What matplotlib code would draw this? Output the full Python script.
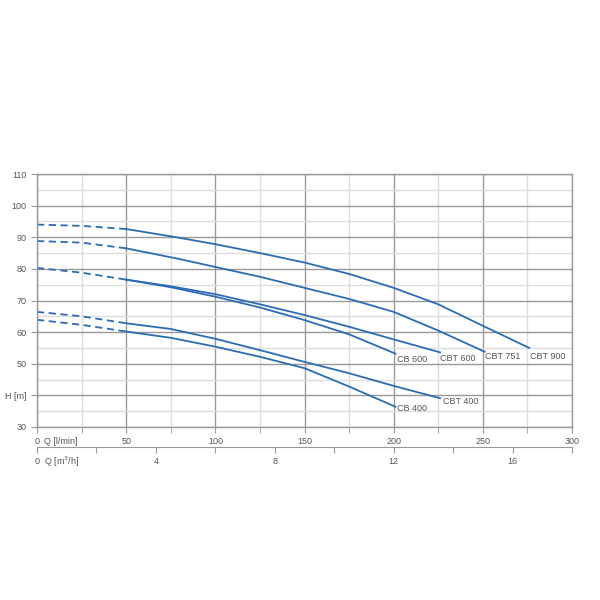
import numpy as np
import matplotlib.pyplot as plt

plt.rcParams['font.family'] = ['Liberation Sans', 'DejaVu Sans']

# flow in l/min, head in m
q_dash = [0, 25, 50]

cbt900_dash = [94.0, 93.6, 92.6]
cbt900_q = [50, 75, 100, 125, 150, 175, 200, 225, 250, 276]
cbt900_h = [92.6, 90.3, 87.8, 85.0, 82.0, 78.4, 74.0, 68.8, 62.0, 55.0]

cbt751_dash = [88.8, 88.3, 86.5]
cbt751_q = [50, 80, 100, 125, 150, 175, 200, 225, 251]
cbt751_h = [86.5, 83.1, 80.6, 77.5, 74.0, 70.5, 66.4, 60.5, 53.8]

cb600_dash = [80.3, 78.8, 76.6]
cbt600_q = [50, 75, 100, 125, 150, 175, 200, 226]
cbt600_h = [76.6, 74.5, 72.0, 68.8, 65.4, 61.7, 57.7, 53.6]
cb600_q = [50, 75, 100, 125, 150, 175, 201]
cb600_h = [76.6, 74.2, 71.2, 67.8, 63.8, 59.3, 53.2]

cbt400_dash = [66.4, 65.0, 62.8]
cbt400_q = [50, 75, 100, 125, 150, 175, 200, 226]
cbt400_h = [62.8, 61.0, 57.9, 54.3, 50.6, 47.0, 43.0, 39.1]

cb400_dash = [63.9, 62.3, 60.2]
cb400_q = [50, 75, 100, 125, 150, 175, 201]
cb400_h = [60.2, 58.2, 55.4, 52.2, 48.6, 42.8, 36.4]

labels = ['CB 600', 'CBT 600', 'CBT 751', 'CBT 900', 'CBT 400', 'CB 400']
label_x = [202, 226, 251, 276.5, 227.5, 202]
label_y = [51.4, 51.6, 52.2, 52.4, 38.0, 35.9]

blue = '#2b6cb3'
grey = '#555555'
fs = 6.5

fig = plt.figure(figsize=(6, 6), dpi=100)
ax = fig.add_axes([37/600, 1-427/600, 535/600, 253/600])

for d in [cbt900_dash, cbt751_dash, cb600_dash, cbt400_dash, cb400_dash]:
    ax.plot(q_dash, d, color=blue, lw=1.3, ls=(0, (4, 2.5)))
for q, h in [(cbt900_q, cbt900_h), (cbt751_q, cbt751_h), (cbt600_q, cbt600_h),
             (cb600_q, cb600_h), (cbt400_q, cbt400_h), (cb400_q, cb400_h)]:
    ax.plot(q, h, color=blue, lw=1.3)

for t, x, y in zip(labels, label_x, label_y):
    ax.text(x, y, t, fontsize=fs, color=grey, va='center', ha='left')

ax.set_xlim(0, 300)
ax.set_ylim(30, 110)
ax.set_xticks(np.arange(0, 301, 50))
ax.set_xticks(np.arange(25, 300, 50), minor=True)
ax.set_yticks(np.arange(30, 111, 10))
ax.set_yticks(np.arange(35, 110, 10), minor=True)
ax.set_xticklabels(['0', '50', '100', '150', '200', '250', '300'])
ax.set_yticklabels(['30', 'H [m]', '50', '60', '70', '80', '90', '100', '110'])
ax.grid(which='major', color='#999999', lw=1.0)
ax.grid(which='minor', color='#dddddd', lw=1.0)
ax.set_axisbelow(True)
for s in ax.spines.values():
    s.set_color('#999999')
    s.set_linewidth(1.0)
ax.tick_params(which='both', colors='#999999', labelcolor=grey, labelsize=fs, length=4)
ax.tick_params(axis='y', which='minor', length=0)
ax.text(4, -0.056, 'Q [l/min]', transform=ax.get_xaxis_transform(),
        fontsize=fs, color=grey, va='center', ha='left')

# second flow axis in m3/h
sec = ax.secondary_xaxis(-0.079, functions=(lambda x: x * 0.06, lambda x: x / 0.06))
sec.set_xticks(np.arange(0, 19, 2))
sec.set_xticklabels(['0', '', '4', '', '8', '', '12', '', '16', ''])
sec.spines['bottom'].set_color('#999999')
sec.tick_params(colors='#999999', labelcolor=grey, labelsize=fs, length=4)
ax.text(4, -0.137, 'Q [m$^3$/h]', transform=ax.get_xaxis_transform(),
        fontsize=fs, color=grey, va='center', ha='left')

fig.savefig('out.png', dpi=100)
